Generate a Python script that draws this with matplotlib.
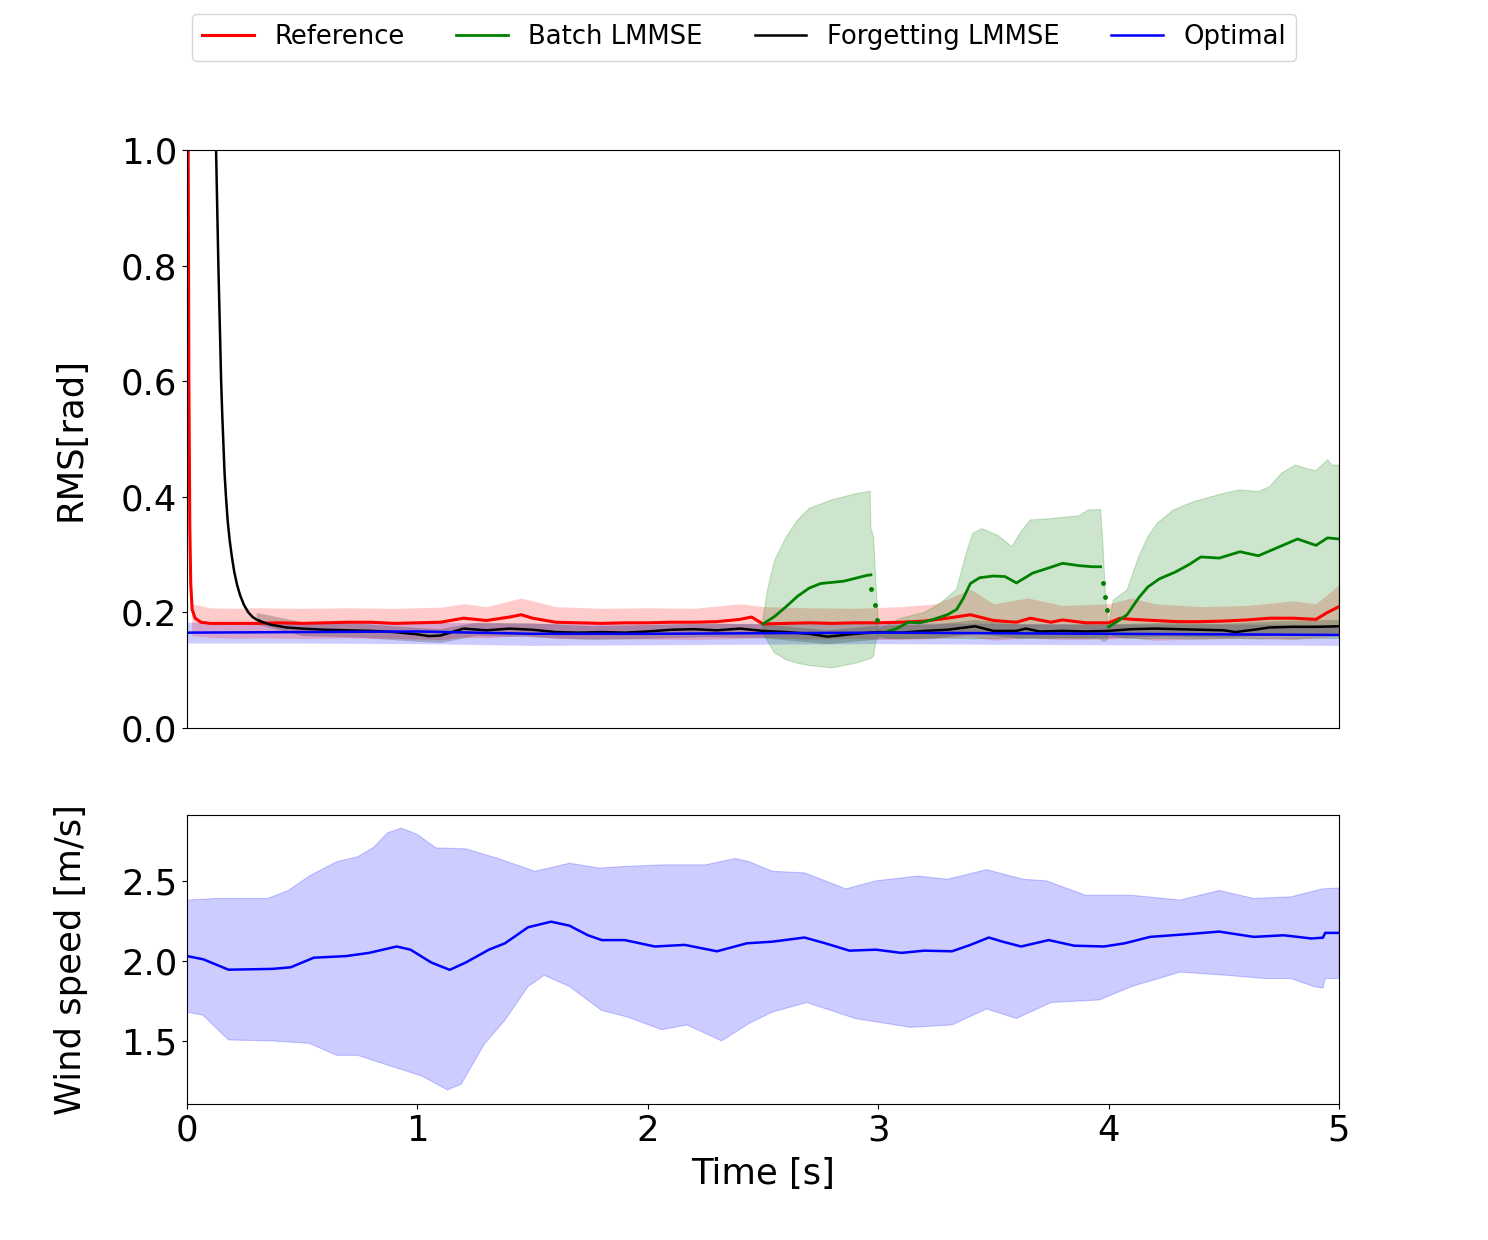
import numpy as np
import matplotlib
matplotlib.use("Agg")
import matplotlib.pyplot as plt

nan = np.nan

# ---------------- Top panel data (RMS [rad]) ----------------
ref_t = [0.0, 0.005, 0.008, 0.012, 0.016, 0.022, 0.035, 0.06, 0.1, 0.2,
         0.3, 0.4, 0.5, 0.6, 0.7, 0.8, 0.9, 1.0,
         1.1, 1.2, 1.3, 1.4, 1.45, 1.5, 1.6, 1.7, 1.8, 1.9,
         2.0, 2.1, 2.2, 2.3, 2.4, 2.45, 2.5, 2.6, 2.7, 2.8,
         2.9, 3.0, 3.1, 3.2, 3.3, 3.4, 3.5, 3.6, 3.66, 3.75,
         3.8, 3.9, 4.0, 4.05, 4.1, 4.2, 4.3, 4.4, 4.5, 4.6,
         4.7, 4.8, 4.9, 4.95, 5.0]
ref_mean = [1.5, 1.0, 0.6, 0.35, 0.25, 0.205, 0.19, 0.183, 0.181, 0.181,
            0.181, 0.182, 0.181, 0.182, 0.183, 0.183, 0.181, 0.182,
            0.183, 0.19, 0.186, 0.192, 0.196, 0.19, 0.183, 0.182, 0.181, 0.182,
            0.182, 0.183, 0.183, 0.184, 0.188, 0.192, 0.18, 0.181, 0.182, 0.181,
            0.182, 0.182, 0.183, 0.185, 0.19, 0.196, 0.186, 0.183, 0.19, 0.183,
            0.187, 0.182, 0.182, 0.19, 0.188, 0.186, 0.184, 0.184, 0.185, 0.187,
            0.19, 0.19, 0.188, 0.2, 0.21]

ref_band_t = [0.02, 0.1, 0.2, 0.3, 0.5, 0.7, 0.9, 1.1, 1.2, 1.3, 1.45,
              1.6, 1.8, 2.0, 2.2, 2.4, 2.5, 2.7, 2.9, 3.1, 3.25, 3.4,
              3.5, 3.65, 3.8, 4.0, 4.1, 4.2, 4.4, 4.6, 4.8, 4.9, 5.0]
ref_upper = [0.215, 0.208, 0.207, 0.208, 0.207, 0.208, 0.207, 0.209, 0.215, 0.21, 0.225,
             0.21, 0.207, 0.208, 0.207, 0.215, 0.21, 0.208, 0.207, 0.21, 0.215, 0.24,
             0.215, 0.225, 0.212, 0.215, 0.225, 0.215, 0.21, 0.212, 0.22, 0.215, 0.248]
ref_lower = [0.16, 0.157, 0.155, 0.156, 0.155, 0.156, 0.155, 0.153, 0.157, 0.156, 0.16,
             0.155, 0.155, 0.154, 0.153, 0.155, 0.157, 0.154, 0.155, 0.153, 0.155, 0.158,
             0.152, 0.156, 0.153, 0.154, 0.156, 0.152, 0.154, 0.155, 0.153, 0.156, 0.16]

batch_t = [2.5, 2.55, 2.6, 2.65, 2.7, 2.75, 2.8, 2.85, 2.9, 2.95, 2.968, nan,
           3.04, 3.08, 3.13, 3.18, 3.24, 3.3, 3.34, 3.37, 3.4, 3.44, 3.5, 3.55,
           3.6, 3.67, 3.74, 3.8, 3.87, 3.93, 3.965, nan,
           4.0, 4.04, 4.08, 4.13, 4.17, 4.22, 4.29, 4.35, 4.40, 4.48, 4.57, 4.65,
           4.72, 4.82, 4.9, 4.95, 5.0]
batch_mean = [0.18, 0.193, 0.21, 0.228, 0.242, 0.25, 0.252, 0.254, 0.259, 0.264, 0.265, nan,
              0.167, 0.172, 0.183, 0.182, 0.188, 0.196, 0.205, 0.225, 0.25, 0.26, 0.263, 0.262,
              0.251, 0.268, 0.277, 0.285, 0.281, 0.279, 0.279, nan,
              0.175, 0.185, 0.196, 0.225, 0.244, 0.258, 0.27, 0.283, 0.296, 0.294, 0.305, 0.298,
              0.31, 0.327, 0.316, 0.329, 0.327]
batch_drop_t = [2.97, 2.985, 2.995, 3.974, 3.984, 3.991]
batch_drop_v = [0.24, 0.213, 0.187, 0.251, 0.227, 0.204]

batch_band_t = [2.5, 2.52, 2.55, 2.6, 2.65, 2.7, 2.8, 2.9, 2.965, 2.968, 2.98, 2.99, 2.998, nan,
                3.0, 3.05, 3.1, 3.2, 3.27, 3.34, 3.38, 3.41, 3.45, 3.52, 3.58, 3.62, 3.66,
                3.74, 3.81, 3.87, 3.91, 3.965, 3.975, 3.985, 3.995, nan,
                4.0, 4.02, 4.08, 4.13, 4.17, 4.21, 4.28, 4.37, 4.5, 4.57, 4.65, 4.7, 4.75,
                4.81, 4.85, 4.9, 4.95, 4.97, 5.0]
batch_upper = [0.19, 0.24, 0.29, 0.33, 0.36, 0.38, 0.395, 0.405, 0.41, 0.346, 0.33, 0.25, 0.2, nan,
               0.17, 0.18, 0.19, 0.2, 0.216, 0.24, 0.3, 0.337, 0.345, 0.333, 0.314, 0.34, 0.36,
               0.362, 0.365, 0.367, 0.377, 0.378, 0.32, 0.24, 0.19, nan,
               0.18, 0.221, 0.239, 0.296, 0.331, 0.354, 0.377, 0.392, 0.406, 0.412, 0.409, 0.418, 0.441,
               0.455, 0.45, 0.445, 0.464, 0.455, 0.455]
batch_lower = [0.165, 0.15, 0.13, 0.118, 0.112, 0.108, 0.104, 0.112, 0.12, 0.12, 0.125, 0.15, 0.16, nan,
               0.16, 0.155, 0.155, 0.155, 0.156, 0.155, 0.155, 0.154, 0.155, 0.155, 0.156, 0.155, 0.155,
               0.155, 0.156, 0.155, 0.155, 0.155, 0.15, 0.15, 0.155, nan,
               0.165, 0.16, 0.155, 0.155, 0.154, 0.155, 0.155, 0.154, 0.155, 0.155, 0.154, 0.155, 0.155,
               0.154, 0.155, 0.155, 0.155, 0.155, 0.155]

forget_t = [0.11, 0.12, 0.126, 0.131, 0.136, 0.142, 0.148, 0.153, 0.158, 0.163,
            0.169, 0.176, 0.185, 0.195, 0.205, 0.217, 0.23, 0.247, 0.266, 0.285,
            0.3, 0.33, 0.36, 0.43, 0.5, 0.6, 0.7, 0.8,
            0.9, 1.0, 1.05, 1.1, 1.15, 1.2, 1.3, 1.4, 1.5, 1.6,
            1.7, 1.8, 1.9, 2.0, 2.1, 2.2, 2.3, 2.4, 2.5, 2.6,
            2.7, 2.78, 2.9, 3.0, 3.1, 3.2, 3.3, 3.42, 3.5, 3.6,
            3.64, 3.7, 3.8, 3.9, 4.0, 4.1, 4.2, 4.3, 4.4, 4.5,
            4.55, 4.63, 4.7, 4.8, 4.9, 5.0]
forget_mean = [1.3, 1.1, 1.0, 0.9, 0.8, 0.7, 0.6, 0.54, 0.49, 0.44,
               0.4, 0.36, 0.325, 0.295, 0.27, 0.248, 0.23, 0.213, 0.2, 0.192,
               0.188, 0.183, 0.179, 0.174, 0.172, 0.17, 0.169, 0.168,
               0.166, 0.162, 0.159, 0.16, 0.166, 0.172, 0.169, 0.172, 0.17, 0.166,
               0.165, 0.166, 0.165, 0.167, 0.17, 0.171, 0.169, 0.172, 0.168, 0.166,
               0.163, 0.158, 0.163, 0.166, 0.165, 0.168, 0.17, 0.176, 0.168, 0.168,
               0.172, 0.167, 0.168, 0.167, 0.168, 0.171, 0.172, 0.171, 0.17, 0.169,
               0.166, 0.17, 0.174, 0.175, 0.175, 0.176]
forget_band_t = [0.3, 0.5, 0.75, 1.0, 1.1, 1.25, 1.5, 1.75, 2.0, 2.25, 2.5,
                 2.78, 3.0, 3.25, 3.42, 3.6, 3.8, 4.0, 4.25, 4.5, 4.75, 5.0]
forget_upper = [0.2, 0.184, 0.181, 0.174, 0.172, 0.183, 0.182, 0.177, 0.179, 0.182, 0.18,
                0.17, 0.178, 0.18, 0.188, 0.18, 0.18, 0.18, 0.183, 0.181, 0.186, 0.188]
forget_lower = [0.18, 0.16, 0.157, 0.15, 0.148, 0.16, 0.158, 0.153, 0.155, 0.158, 0.156,
                0.146, 0.154, 0.156, 0.164, 0.156, 0.156, 0.156, 0.159, 0.157, 0.162, 0.164]

opt_t = [0.0, 0.5, 1.0, 1.5, 2.0, 2.5, 3.0, 3.5, 4.0, 4.5, 5.0]
opt_mean = [0.165, 0.166, 0.167, 0.163, 0.163, 0.164, 0.165, 0.164, 0.163, 0.162, 0.161]
opt_upper = [0.183, 0.184, 0.183, 0.181, 0.18, 0.181, 0.182, 0.181, 0.18, 0.18, 0.179]
opt_lower = [0.147, 0.147, 0.146, 0.143, 0.144, 0.145, 0.146, 0.145, 0.144, 0.144, 0.143]

# ---------------- Bottom panel data (wind speed) ----------------
wind_t = [0, 0.07, 0.18, 0.37, 0.45, 0.55, 0.69, 0.79, 0.91, 0.97,
          1.06, 1.14, 1.21, 1.31, 1.38, 1.48, 1.58, 1.66, 1.74, 1.80,
          1.90, 2.03, 2.16, 2.30, 2.43, 2.54, 2.68, 2.77, 2.875, 2.99,
          3.10, 3.20, 3.32, 3.40, 3.48, 3.54, 3.62, 3.74, 3.85, 3.98,
          4.07, 4.18, 4.35, 4.48, 4.63, 4.76, 4.88, 4.93, 4.94, 5.0]
wind_mean = [2.03, 2.01, 1.945, 1.95, 1.96, 2.02, 2.03, 2.05, 2.09, 2.07,
             1.99, 1.944, 1.99, 2.07, 2.11, 2.21, 2.245, 2.22, 2.16, 2.13,
             2.13, 2.09, 2.10, 2.06, 2.11, 2.12, 2.146, 2.11, 2.064, 2.07,
             2.05, 2.064, 2.06, 2.10, 2.146, 2.12, 2.09, 2.13, 2.095, 2.09,
             2.11, 2.15, 2.168, 2.183, 2.15, 2.16, 2.14, 2.145, 2.175, 2.175]
wind_up_t = [0, 0.13, 0.35, 0.44, 0.53, 0.65, 0.74, 0.81, 0.87, 0.93,
             1.0, 1.08, 1.21, 1.35, 1.51, 1.66, 1.79, 1.90, 2.06, 2.25,
             2.38, 2.44, 2.54, 2.68, 2.86, 2.99, 3.17, 3.30, 3.47, 3.63,
             3.73, 3.90, 4.10, 4.31, 4.48, 4.63, 4.79, 4.93, 5.0]
wind_upper = [2.38, 2.39, 2.39, 2.44, 2.53, 2.62, 2.65, 2.71, 2.80, 2.83,
              2.79, 2.706, 2.70, 2.64, 2.56, 2.61, 2.58, 2.59, 2.60, 2.60,
              2.64, 2.62, 2.56, 2.55, 2.45, 2.50, 2.53, 2.51, 2.57, 2.51,
              2.50, 2.41, 2.41, 2.38, 2.44, 2.39, 2.40, 2.45, 2.455]
wind_lo_t = [0, 0.07, 0.18, 0.37, 0.53, 0.65, 0.74, 0.89, 1.02, 1.13,
             1.19, 1.29, 1.38, 1.48, 1.55, 1.66, 1.80, 1.91, 2.06, 2.17,
             2.32, 2.44, 2.54, 2.69, 2.90, 3.14, 3.32, 3.47, 3.60, 3.75,
             3.96, 4.10, 4.31, 4.51, 4.68, 4.79, 4.89, 4.93, 4.94, 5.0]
wind_lower = [1.68, 1.66, 1.506, 1.50, 1.485, 1.41, 1.41, 1.34, 1.28, 1.194,
              1.23, 1.48, 1.63, 1.84, 1.91, 1.84, 1.69, 1.65, 1.57, 1.60,
              1.50, 1.61, 1.68, 1.74, 1.64, 1.585, 1.60, 1.70, 1.64, 1.74,
              1.756, 1.84, 1.93, 1.91, 1.89, 1.89, 1.84, 1.83, 1.89, 1.89]

labels = ["Reference", "Batch LMMSE", "Forgetting LMMSE", "Optimal"]
top_yticks = [0.0, 0.2, 0.4, 0.6, 0.8, 1.0]
bot_yticks = [1.5, 2.0, 2.5]
xticks = [0, 1, 2, 3, 4, 5]

# ---------------- Plot ----------------
plt.rcParams['font.family'] = ['DejaVu Sans']
FS = 25.5
fig = plt.figure(figsize=(14.88, 12.4), dpi=100)
ax1 = fig.add_axes([0.1257, 0.4129, 0.7742, 0.4661])
ax2 = fig.add_axes([0.1257, 0.1097, 0.7742, 0.2331])

A = 0.2
ax1.fill_between(opt_t, opt_lower, opt_upper, color='blue', alpha=A, linewidth=0)
ax1.fill_between(ref_band_t, ref_lower, ref_upper, color='red', alpha=A, linewidth=0)
ax1.fill_between(forget_band_t, forget_lower, forget_upper, color='black', alpha=A, linewidth=0)
ax1.fill_between(batch_band_t, batch_lower, batch_upper, color='green', alpha=A, linewidth=0.8)

l1, = ax1.plot(ref_t, ref_mean, color='red', lw=2.2, label=labels[0])
l2, = ax1.plot(batch_t, batch_mean, color='green', lw=2.0, label=labels[1])
ax1.plot(batch_drop_t, batch_drop_v, linestyle='none', marker='o', ms=2.5, color='green')
l3, = ax1.plot(forget_t, forget_mean, color='black', lw=1.8, label=labels[2])
l4, = ax1.plot(opt_t, opt_mean, color='blue', lw=1.8, label=labels[3])

ax1.set_xlim(0, 5)
ax1.set_ylim(0, 1.0)
ax1.set_yticks(top_yticks)
ax1.set_yticklabels([f"{v:.1f}" for v in top_yticks], fontsize=FS)
ax1.set_xticks([])
ax1.set_ylabel("RMS[rad]", fontsize=FS, labelpad=24)

poly_x = list(wind_up_t) + list(wind_lo_t[::-1])
poly_y = list(wind_upper) + list(wind_lower[::-1])
ax2.fill(poly_x, poly_y, color='blue', alpha=A, linewidth=0.8)
ax2.plot(wind_t, wind_mean, color='blue', lw=1.8)
ax2.set_xlim(0, 5)
ax2.set_ylim(1.106, 2.912)
ax2.set_yticks(bot_yticks)
ax2.set_yticklabels([f"{v:.1f}" for v in bot_yticks], fontsize=FS)
ax2.set_xticks(xticks)
ax2.set_xticklabels([str(v) for v in xticks], fontsize=FS)
ax2.set_xlabel("Time [s]", fontsize=FS, labelpad=7)
ax2.set_ylabel("Wind speed [m/s]", fontsize=FS, labelpad=24)

fig.legend(handles=[l1, l2, l3, l4], labels=labels, loc='upper center',
           bbox_to_anchor=(0.5, 0.999), ncol=4, fontsize=18.6, frameon=True)

fig.savefig("out.png", dpi=100)
